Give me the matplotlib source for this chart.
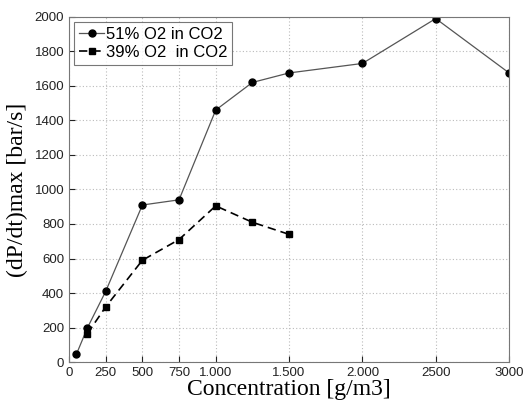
import matplotlib
matplotlib.use("Agg")
import matplotlib.pyplot as plt

# data
conc_51 = [50, 125, 250, 500, 750, 1000, 1250, 1500, 2000, 2500, 3000]
rate_51 = [45, 198, 410, 910, 940, 1460, 1620, 1675, 1730, 1990, 1675]
conc_39 = [125, 250, 500, 750, 1000, 1250, 1500]
rate_39 = [165, 320, 590, 710, 905, 810, 740]

xticks = [0, 250, 500, 750, 1000, 1500, 2000, 2500, 3000]
xlabels = ["0", "250", "500", "750", "1.000", "1.500", "2.000", "2500", "3000"]
yticks = [0, 200, 400, 600, 800, 1000, 1200, 1400, 1600, 1800, 2000]

fig = plt.figure(figsize=(5.27, 4.01), dpi=100)
ax = fig.add_axes([0.131, 0.097, 0.835, 0.861])

ax.plot(conc_51, rate_51, color="#555555", lw=0.9, marker="o", ms=5,
        mfc="black", mec="black", label="51% O2 in CO2")
ax.plot(conc_39, rate_39, color="black", lw=1.2, ls=(0, (5, 3)), marker="s", ms=4.5,
        mfc="black", mec="black", label="39% O2  in CO2")

ax.set_xlim(0, 3000)
ax.set_ylim(0, 2000)
ax.set_xticks(xticks)
ax.set_xticklabels(xlabels)
ax.set_yticks(yticks)
ax.grid(True, ls=(0, (1, 2)), color="#bbbbbb", lw=0.8)
ax.tick_params(direction="in", length=4, labelsize=9.5, colors="#222222")
for lbl in ax.get_xticklabels() + ax.get_yticklabels():
    lbl.set_family("Liberation Sans")
for s in ax.spines.values():
    s.set_color("#777777")

ax.set_xlabel("Concentration [g/m3]", family="Liberation Serif", fontsize=17, labelpad=0)
ax.set_ylabel("(dP/dt)max [bar/s]", family="Liberation Serif", fontsize=17, labelpad=5)

leg = ax.legend(loc="upper left", prop={"family": "Liberation Sans", "size": 12},
                fancybox=False, edgecolor="#555555", handlelength=1.5,
                handletextpad=0.1, borderpad=0.3, labelspacing=0.2,
                borderaxespad=0.3)
leg.get_frame().set_linewidth(0.8)

fig.savefig("out.png", dpi=100)
